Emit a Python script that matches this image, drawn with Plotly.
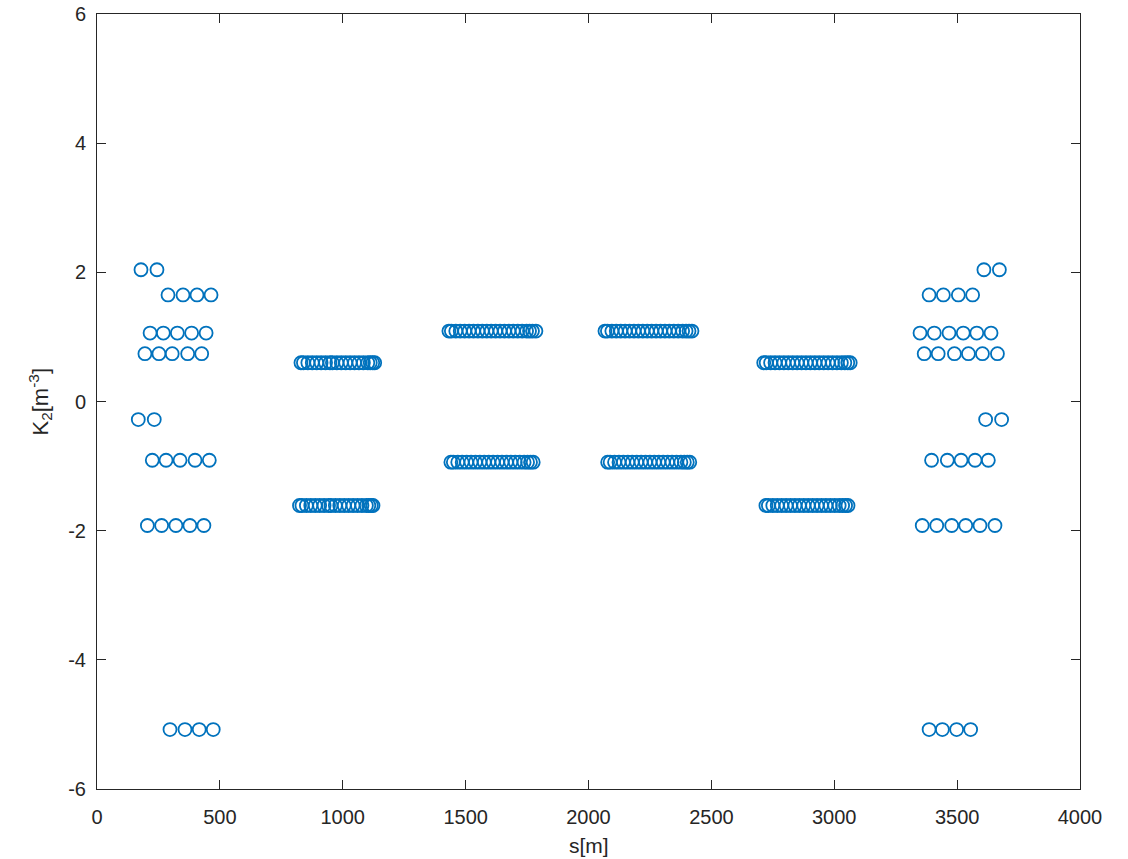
import plotly.graph_objects as go

# ---- data: (s positions [m], K2 value) per row ----
left_204 = [179, 244]
left_165 = [289, 350, 407, 464]
left_106 = [216, 270, 327, 385, 444]
left_074 = [195, 252, 306, 369, 426]
left_m028 = [168, 233]
left_m090 = [225, 281, 338, 399, 457]
left_m192 = [205, 263, 321, 378, 435]
left_m508 = [297, 358, 416, 473]

right_204 = [3609, 3672]
right_165 = [3386, 3444, 3505, 3563]
right_106 = [3349, 3407, 3467, 3525, 3580, 3638]
right_074 = [3366, 3423, 3489, 3546, 3603, 3664]
right_m028 = [3616, 3681]
right_m090 = [3396, 3460, 3516, 3573, 3627]
right_m192 = [3358, 3417, 3478, 3535, 3593, 3654]
right_m508 = [3386, 3440, 3498, 3555]

arc1_up = [830, 840, 858, 876, 894, 912, 930, 948, 958, 976, 994, 1012, 1030,
           1048, 1066, 1084, 1102, 1112, 1122, 1130]
arc1_dn = [824, 834, 852, 870, 888, 906, 924, 942, 952, 970, 988, 1006, 1024,
           1042, 1060, 1078, 1096, 1106, 1116, 1123]
arc2_up = [1432, 1442, 1460, 1478, 1496, 1514, 1532, 1550, 1568, 1586, 1604,
           1622, 1640, 1658, 1676, 1694, 1712, 1730, 1748, 1760, 1772, 1786]
arc2_dn = [1440, 1450, 1468, 1486, 1504, 1522, 1540, 1558, 1576, 1594, 1612,
           1630, 1648, 1666, 1684, 1702, 1720, 1738, 1752, 1764, 1775]
arc3_up = [2067, 2077, 2095, 2113, 2131, 2149, 2167, 2185, 2203, 2221, 2239,
           2257, 2275, 2293, 2311, 2329, 2347, 2365, 2383, 2397, 2409, 2421]
arc3_dn = [2078, 2088, 2106, 2124, 2142, 2160, 2178, 2196, 2214, 2232, 2250,
           2268, 2286, 2304, 2322, 2340, 2358, 2376, 2390, 2402, 2412]
arc4_up = [2713, 2723, 2741, 2759, 2777, 2795, 2813, 2831, 2849, 2867, 2885,
           2903, 2921, 2939, 2957, 2975, 2993, 3011, 3029, 3043, 3055, 3065]
arc4_dn = [2722, 2732, 2750, 2768, 2786, 2804, 2822, 2840, 2858, 2876, 2894,
           2912, 2930, 2948, 2966, 2984, 3002, 3020, 3034, 3046, 3056]

rows = [
    (left_204, 2.04), (left_165, 1.65), (left_106, 1.06), (left_074, 0.74),
    (left_m028, -0.28), (left_m090, -0.91), (left_m192, -1.92), (left_m508, -5.08),
    (right_204, 2.04), (right_165, 1.65), (right_106, 1.06), (right_074, 0.74),
    (right_m028, -0.28), (right_m090, -0.91), (right_m192, -1.92), (right_m508, -5.08),
    (arc1_up, 0.60), (arc1_dn, -1.61), (arc2_up, 1.09), (arc2_dn, -0.94),
    (arc3_up, 1.09), (arc3_dn, -0.94), (arc4_up, 0.60), (arc4_dn, -1.61),
]

s_vals, k_vals = [], []
for xs, k in rows:
    s_vals += xs
    k_vals += [k] * len(xs)

x_ticks = [0, 500, 1000, 1500, 2000, 2500, 3000, 3500, 4000]
y_ticks = [-6, -4, -2, 0, 2, 4, 6]
x_title = "s[m]"
y_title = "K<sub>2</sub>[m<sup>-3</sup>]"

FONT = "Liberation Sans, Arial"
INK = "#262626"

fig = go.Figure(go.Scatter(
    x=s_vals, y=k_vals, mode="markers",
    marker=dict(symbol="circle-open", size=13, color="#0072BD",
                line=dict(width=1.8, color="#0072BD")),
    showlegend=False,
))

axis_common = dict(
    showgrid=False, zeroline=False, showline=True, linecolor=INK,
    linewidth=1, mirror="ticks", ticks="inside", ticklen=9, automargin=False,
    tickcolor=INK, tickfont=dict(family=FONT, size=20, color=INK),
)
fig.update_xaxes(range=[0, 4000], tickvals=x_ticks, ticktext=[str(v) for v in x_ticks],
                 ticklabelstandoff=10, **axis_common)
fig.update_yaxes(range=[-6, 6], tickvals=y_ticks, ticktext=[str(v) for v in y_ticks],
                 ticklabelstandoff=6, **axis_common)
fig.add_annotation(text=x_title, xref="paper", yref="paper", x=0.5, y=0,
                   xanchor="center", yanchor="middle", yshift=-56, showarrow=False,
                   font=dict(family=FONT, size=21, color=INK))
fig.add_annotation(text=y_title, xref="paper", yref="paper", x=0, y=0.5,
                   xanchor="center", yanchor="middle", xshift=-57, textangle=-90,
                   showarrow=False, font=dict(family=FONT, size=22, color=INK))
fig.update_layout(
    width=1128, height=859,
    margin=dict(l=97, r=48, t=14, b=70, autoexpand=False),
    plot_bgcolor="white", paper_bgcolor="white",
)
fig.write_html("out.html", config={"displayModeBar": False},
               post_script="document.body.style.margin='0';")
